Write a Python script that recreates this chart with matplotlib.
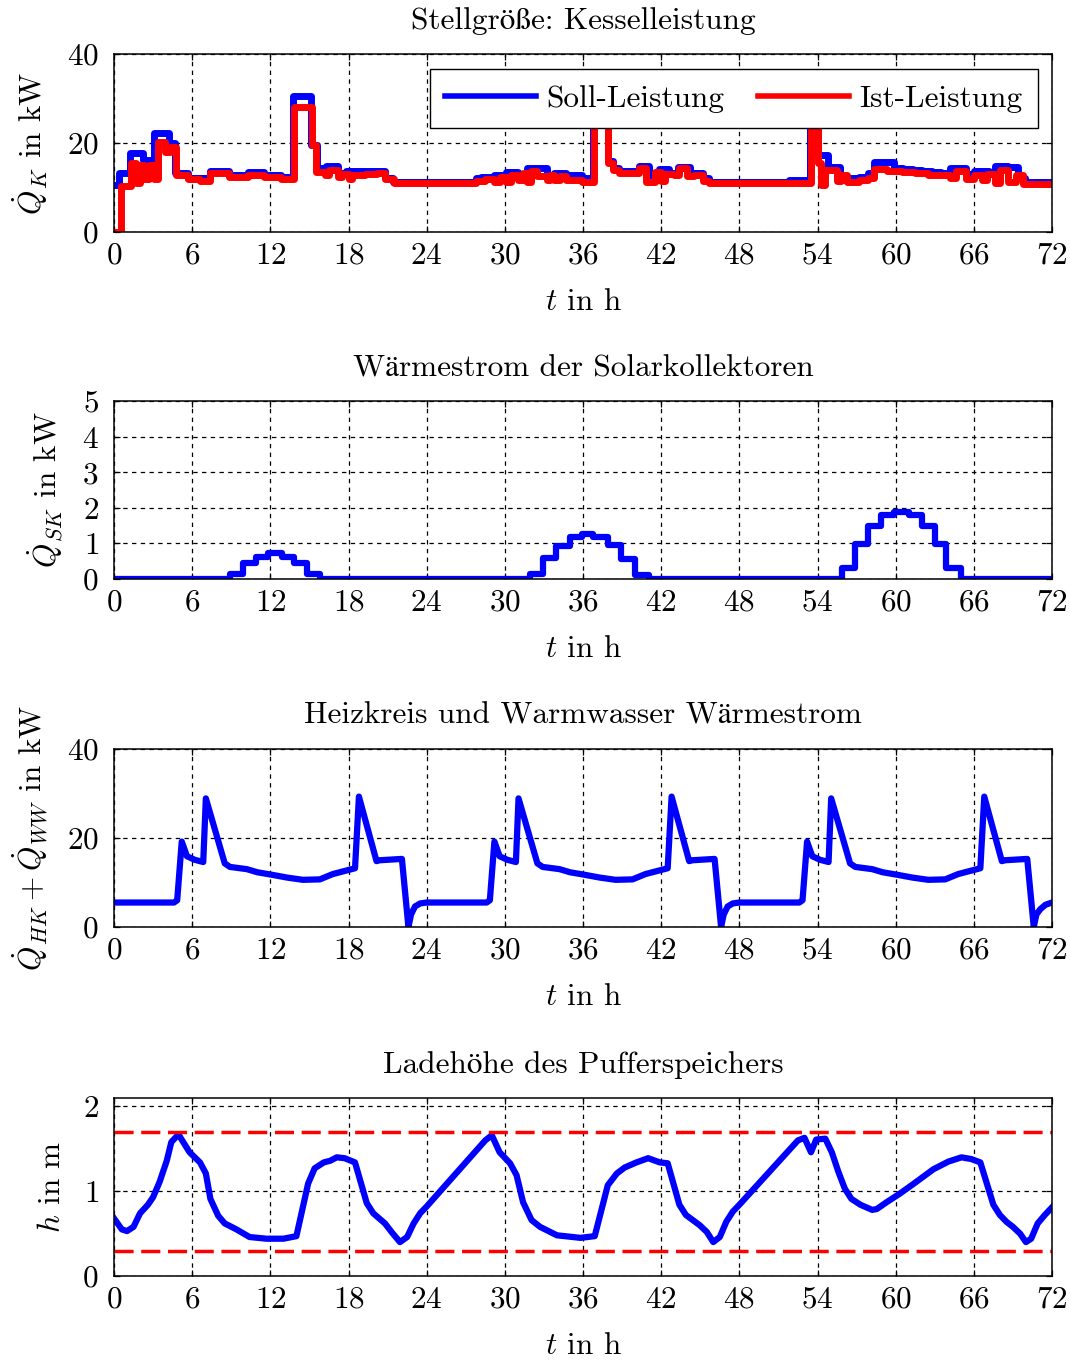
import matplotlib
matplotlib.use("Agg")
import matplotlib.pyplot as plt

plt.rcParams.update({
    "font.family": ["cmr10", "STIXGeneral"],
    "mathtext.fontset": "cm",
    "font.size": 22.5,
    "axes.formatter.use_mathtext": True,
    "axes.unicode_minus": False,
})

FS = 22.5

# ---------------- data ----------------
hour_ticks = [0, 6, 12, 18, 24, 30, 36, 42, 48, 54, 60, 66, 72]

# boiler power, set point (step changes: start time in h, value in kW)
soll_t = [0, 0.35, 1.25, 2.25, 3.1, 4.25, 4.7, 5.7, 7.35, 8.8,
          10.3, 11.5, 12.8, 13.75, 15.15, 15.55, 16.3, 17.2, 17.8, 19.3,
          20.8, 21.4, 27.8, 28.2, 29.2, 30.1, 31.0, 31.7, 33.2, 33.8,
          34.7, 35.9, 36.8, 37.9, 38.3, 38.8, 40.3, 41.1, 41.8, 42.6,
          43.3, 44.2, 45.2, 45.7, 51.8, 53.45, 54.0, 54.8, 55.7, 56.3,
          57.2, 57.9, 58.3, 59.9, 60.6, 61.3, 62.0, 62.8, 63.5, 64.2,
          65.4, 66.0, 67.2, 67.6, 68.6, 69.4, 69.9, 72.0]
soll_v = [10.6, 13.2, 17.7, 16.2, 22.2, 19.9, 13.2, 12.1, 13.7, 12.7,
          13.4, 12.9, 12.3, 30.5, 19.6, 14.3, 14.8, 13.2, 13.6, 13.7,
          12.1, 11.3, 12.1, 12.3, 12.9, 13.4, 13.0, 14.3, 12.9, 13.2,
          12.7, 12.1, 33.0, 16.0, 14.3, 13.6, 14.8, 12.9, 14.2, 13.2,
          14.6, 13.2, 12.1, 11.3, 11.6, 33.0, 17.2, 14.7, 12.4, 12.1,
          12.4, 13.2, 15.7, 14.4, 14.2, 14.0, 13.7, 13.4, 13.2, 14.4,
          13.0, 13.7, 13.0, 14.9, 14.7, 12.1, 11.3, 11.3]

# boiler power, actual
ist_t = [0, 0.5, 1.3, 1.7, 2.0, 2.3, 2.7, 3.1, 3.4, 3.9,
         4.3, 4.75, 5.7, 6.6, 7.4, 8.8, 10.3, 11.5, 12.8, 13.85,
         15.2, 15.5, 16.2, 16.5, 17.2, 17.5, 18.0, 18.3, 19.3, 20.2,
         20.8, 21.5, 27.8, 28.5, 29.2, 29.6, 30.1, 30.5, 31.0, 31.4,
         31.7, 32.0, 32.5, 33.2, 33.5, 33.8, 34.2, 34.7, 35.9, 36.85,
         37.9, 38.3, 38.8, 40.3, 40.8, 41.5, 42.0, 42.3, 43.0, 43.4,
         44.0, 44.5, 45.2, 45.7, 51.8, 53.5, 54.0, 54.3, 54.6, 55.5,
         55.8, 56.3, 57.2, 57.9, 58.3, 59.3, 60.5, 61.5, 62.5, 63.5,
         64.2, 64.6, 65.4, 66.0, 66.6, 67.0, 67.6, 68.0, 68.6, 69.2,
         69.8, 72.0]
ist_v = [0.0, 10.3, 15.5, 11.0, 15.0, 12.0, 15.0, 12.0, 20.3, 18.0,
         19.0, 12.8, 11.8, 11.5, 13.2, 12.3, 12.9, 12.4, 12.0, 28.0,
         19.5, 13.5, 12.8, 14.0, 12.3, 13.0, 11.8, 12.8, 13.1, 13.2,
         11.8, 11.0, 11.4, 11.9, 11.2, 12.4, 11.2, 12.8, 11.6, 13.2,
         11.2, 13.6, 12.5, 11.6, 12.8, 11.6, 12.6, 11.7, 11.3, 33.0,
         15.5, 14.0, 13.2, 14.3, 11.3, 13.5, 11.5, 13.0, 12.7, 14.3,
         12.6, 12.8, 11.4, 10.9, 10.9, 33.0, 15.5, 10.5, 14.0, 11.5,
         12.8, 11.2, 11.7, 12.2, 14.2, 13.8, 13.5, 13.2, 12.9, 12.7,
         12.2, 13.7, 11.9, 12.9, 11.6, 13.0, 11.1, 13.9, 11.3, 12.8,
         10.8, 10.8]

# solar collector heat flow (step changes)
solar_t = [0, 8.9, 9.9, 10.9, 11.8, 12.9, 13.8, 14.8, 15.8,
           31.9, 32.95, 33.95, 35.0, 35.9, 36.8, 37.9, 38.95, 40.0, 41.1,
           55.85, 56.9, 57.9, 58.9, 59.9, 61.05, 62.0, 63.0, 63.9, 65.05, 72]
solar_v = [0, 0.15, 0.45, 0.62, 0.72, 0.62, 0.45, 0.15, 0,
           0.14, 0.60, 0.93, 1.17, 1.26, 1.17, 0.95, 0.56, 0.10, 0,
           0.32, 0.98, 1.50, 1.81, 1.88, 1.81, 1.50, 0.98, 0.30, 0, 0]

# heating circuit + domestic hot water heat flow
load_t = [0, 4.6, 4.85, 5.2, 5.6, 6.2, 6.85, 7.05, 8.5, 8.9,
          10.2, 11.0, 12.0, 13.3, 14.5, 15.8, 16.8, 18.5, 18.8, 20.15,
          20.4, 22.1, 22.6, 22.8, 23.1, 23.5, 24.0,
          28.6, 28.85, 29.2, 29.6, 30.2, 30.85, 31.05, 32.5, 32.9,
          34.2, 35.0, 36.0, 37.3, 38.5, 39.8, 40.8, 42.5, 42.8, 44.15,
          44.4, 46.1, 46.6, 46.8, 47.1, 47.5, 48.0,
          52.6, 52.85, 53.2, 53.6, 54.2, 54.85, 55.05, 56.5, 56.9,
          58.2, 59.0, 60.0, 61.3, 62.5, 63.8, 64.8, 66.5, 66.8, 68.15,
          68.4, 70.1, 70.6, 70.8, 71.1, 71.5, 72.0]
load_v = [5.5, 5.5, 6.0, 19.2, 15.9, 15.1, 14.6, 28.9, 14.3, 13.5,
          13.0, 12.3, 11.8, 11.1, 10.6, 10.7, 11.9, 13.2, 29.3, 14.8,
          15.0, 15.3, 0.0, 2.8, 4.6, 5.3, 5.5,
          5.5, 6.0, 19.2, 15.9, 15.1, 14.6, 28.9, 14.3, 13.5,
          13.0, 12.3, 11.8, 11.1, 10.6, 10.7, 11.9, 13.2, 29.3, 14.8,
          15.0, 15.3, 0.0, 2.8, 4.6, 5.3, 5.5,
          5.5, 6.0, 19.2, 15.9, 15.1, 14.6, 28.9, 14.3, 13.5,
          13.0, 12.3, 11.8, 11.1, 10.6, 10.7, 11.9, 13.2, 29.3, 14.8,
          15.0, 15.3, 0.0, 2.8, 4.0, 5.0, 5.5]

# buffer storage charge height
h_t = [0, 0.6, 1.0, 1.5, 2.0, 2.6, 3.0, 3.5, 4.05, 4.4,
       4.95, 5.8, 6.6, 7.05, 7.4, 8.0, 8.5, 9.4, 10.4, 11.7,
       13.0, 14.0, 14.9, 15.4, 16.1, 16.6, 17.1, 17.7, 18.5, 19.4,
       19.9, 20.8, 21.3, 21.95, 22.5, 23.0, 23.5, 24.0, 28.5, 29.0,
       29.6, 30.4, 30.9, 31.4, 32.05, 32.7, 34.0, 35.8, 36.9, 37.9,
       38.6, 39.2, 40.1, 41.0, 41.9, 42.5, 43.4, 43.9, 44.95, 45.5,
       46.0, 46.5, 47.0, 47.5, 48.0, 52.5, 53.0, 53.5, 53.9, 54.6,
       55.1, 55.6, 56.1, 56.6, 57.3, 58.2, 58.55, 59.3, 60.3, 61.4,
       62.9, 64.05, 65.05, 65.8, 66.5, 67.5, 68.0, 68.5, 69.0, 69.55,
       70.0, 70.4, 70.9, 71.45, 72.0]
h_v = [0.68, 0.55, 0.53, 0.58, 0.74, 0.84, 0.93, 1.11, 1.36, 1.58,
       1.67, 1.46, 1.34, 1.21, 0.91, 0.71, 0.62, 0.55, 0.46, 0.44,
       0.44, 0.47, 1.09, 1.27, 1.34, 1.36, 1.40, 1.39, 1.34, 0.86,
       0.74, 0.62, 0.52, 0.40, 0.46, 0.62, 0.74, 0.82, 1.60, 1.66,
       1.46, 1.33, 1.19, 0.87, 0.66, 0.58, 0.48, 0.45, 0.47, 1.07,
       1.21, 1.28, 1.34, 1.39, 1.34, 1.33, 0.84, 0.72, 0.60, 0.52,
       0.40, 0.46, 0.64, 0.76, 0.84, 1.60, 1.63, 1.46, 1.61, 1.62,
       1.46, 1.23, 1.03, 0.91, 0.84, 0.78, 0.79, 0.87, 0.97, 1.09,
       1.26, 1.35, 1.40, 1.38, 1.34, 0.84, 0.72, 0.64, 0.58, 0.50,
       0.40, 0.44, 0.62, 0.72, 0.81]
h_min, h_max = 0.3, 1.7

# ---------------- figure ----------------
fig = plt.figure(figsize=(10.70, 13.61), dpi=100)
W, H = 1070.0, 1361.0
left, right = 114, 1052
panels_px = [(54, 232), (401, 579), (749, 927), (1098, 1276)]
axes = [fig.add_axes([left / W, 1 - b / H, (right - left) / W, (b - t) / H])
        for t, b in panels_px]

LW = 4.5
LW_POWER = 5.0
BLUE = "#0000ff"
RED = "#ff0000"


def style(ax, title, ylabel, ylim, yticks):
    ax.set_xlim(0, 72)
    ax.set_ylim(*ylim)
    ax.set_xticks(hour_ticks)
    ax.set_yticks(yticks)
    ax.grid(True, color="black", linewidth=0.9, linestyle=(0, (3.5, 3.5)))
    ax.set_axisbelow(True)
    ax.tick_params(direction="in", top=True, right=True, length=4,
                   width=0.9, labelsize=FS)
    ax.tick_params(axis="x", pad=7)
    ax.tick_params(axis="y", pad=11)
    for s in ax.spines.values():
        s.set_linewidth(1.1)
    ax.set_title(title, fontsize=FS, pad=18)
    ax.set_xlabel(r"$t$ in h", fontsize=FS, labelpad=13)
    ax.set_ylabel(ylabel, fontsize=FS, labelpad=12)


# Panel 1: boiler power
ax = axes[0]
ax.step(soll_t, soll_v, where="post", color=BLUE, lw=LW_POWER, label="Soll-Leistung")
ax.step(ist_t, ist_v, where="post", color=RED, lw=LW_POWER, label="Ist-Leistung")
style(ax, "Stellgröße: Kesselleistung", r"$\dot{Q}_K$ in kW", (0, 40), [0, 20, 40])
leg = ax.legend(ncol=2, loc="upper right", bbox_to_anchor=(0.985, 0.916),
                borderaxespad=0, frameon=True, fancybox=False, framealpha=1,
                edgecolor="black", handlelength=2.9, handletextpad=0.32,
                columnspacing=1.1, borderpad=0.5, fontsize=FS)
leg.get_frame().set_linewidth(1.0)
for line in leg.get_lines():
    line.set_linewidth(4.0)

# Panel 2: solar collectors
ax = axes[1]
ax.step(solar_t, solar_v, where="post", color=BLUE, lw=LW)
style(ax, "Wärmestrom der Solarkollektoren", r"$\dot{Q}_{SK}$ in kW",
      (0, 5), [0, 1, 2, 3, 4, 5])

# Panel 3: heating circuit + hot water
ax = axes[2]
ax.plot(load_t, load_v, color=BLUE, lw=LW)
style(ax, "Heizkreis und Warmwasser Wärmestrom",
      r"$\dot{Q}_{HK}+\dot{Q}_{WW}$ in kW", (0, 40), [0, 20, 40])

# Panel 4: charge height of buffer storage
ax = axes[3]
ax.plot(h_t, h_v, color=BLUE, lw=LW)
ax.axhline(h_min, color=RED, lw=2.5, linestyle=(0, (5.5, 2.2)))
ax.axhline(h_max, color=RED, lw=2.5, linestyle=(0, (5.5, 2.2)))
style(ax, "Ladehöhe des Pufferspeichers", r"$h$ in m", (0, 2.1), [0, 1, 2])

fig.savefig("out.png", dpi=100)
